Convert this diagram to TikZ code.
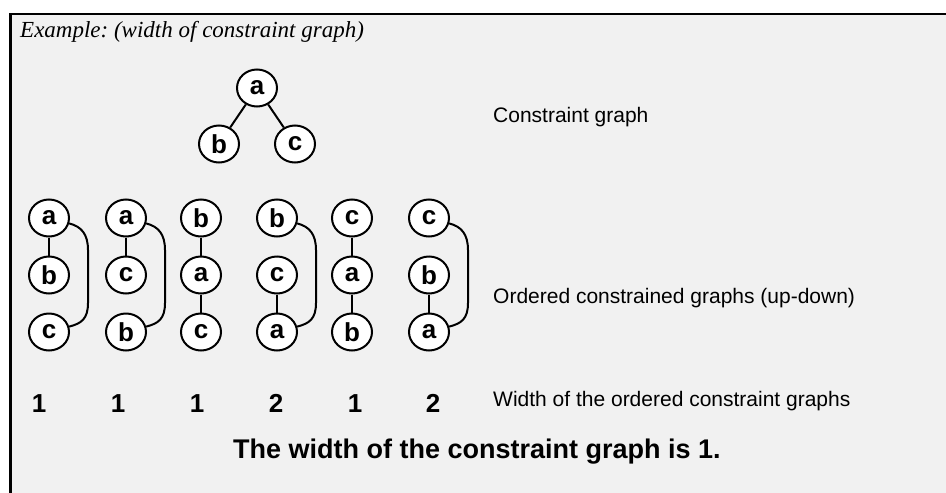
\documentclass[tikz,border=0pt]{standalone}
\usepackage{fontspec}
\setmainfont{Liberation Serif}
\newfontfamily\arialf{Liberation Sans}
\usetikzlibrary{shapes.geometric,calc}
\definecolor{bgc}{RGB}{241,241,241}
\frenchspacing
\tikzset{
  vtx/.style={ellipse, draw=black, fill=white, line width=2pt, minimum width=40pt, minimum height=37pt, inner sep=0pt,
    font=\arialf\bfseries\fontsize{26}{26}\selectfont},
  edg/.style={line width=2pt},
  lbl/.style={anchor=base west, inner sep=0pt, font=\arialf\fontsize{21}{21}\selectfont},
  num/.style={anchor=base, inner sep=0pt, font=\arialf\bfseries\fontsize{26}{26}\selectfont},
}
\newcommand{\arcedge}[3]{%
  \draw[edg] (#1.-15) .. controls +(12,3) and +(0,-16) .. ($(#1.center)+(#3,32)$)
    -- ($(#2.center)+(#3,-29)$) .. controls +(0,16) and +(12,-3) .. (#2.15);}
\begin{document}
\begin{tikzpicture}[x=1pt,y=-1pt]
\useasboundingbox (0,0) rectangle (946,493);
\fill[bgc] (10.7,14) rectangle (946,493);
\draw[line width=2.7pt] (10.7,493) -- (10.7,14) -- (946,14);
\node[anchor=base west, inner sep=0pt, font=\itshape\fontsize{23}{23}\selectfont] (title) at (20,37) {Example: (width of constraint graph)};
% tree
\node[vtx] (ta) at (257,88) {a};
\node[vtx] (tb) at (219,144) {b};
\node[vtx] (tc) at (295,144) {c};
\draw[edg] (ta) -- (tb);
\draw[edg] (ta) -- (tc);
\node[lbl] (l1) at (493,122) {Constraint graph};
% ordered graphs
\foreach \i/\x/\p/\q/\r in {1/49/a/b/c, 2/126/a/c/b, 3/201/b/a/c, 4/277/b/c/a, 5/352/c/a/b, 6/429/c/b/a}{
  \node[vtx] (g\i t) at (\x,218) {\p};
  \node[vtx] (g\i m) at (\x,275) {\q};
  \node[vtx] (g\i b) at (\x,332) {\r};
}
\draw[edg] (g1t) -- (g1m);
\arcedge{g1t}{g1b}{39}
\draw[edg] (g2t) -- (g2m);
\arcedge{g2t}{g2b}{39}
\draw[edg] (g3t) -- (g3m);
\draw[edg] (g3m) -- (g3b);
\draw[edg] (g4m) -- (g4b);
\arcedge{g4t}{g4b}{39}
\draw[edg] (g5t) -- (g5m);
\draw[edg] (g5m) -- (g5b);
\draw[edg] (g6m) -- (g6b);
\arcedge{g6t}{g6b}{39}
\node[lbl] (l2) at (493,303) {Ordered constrained graphs (up-down)};
% widths
\node[num] (w1) at (39,412) {1};
\node[num] (w2) at (118,412) {1};
\node[num] (w3) at (197,412) {1};
\node[num] (w4) at (276,412) {2};
\node[num] (w5) at (355,412) {1};
\node[num] (w6) at (433,412) {2};
\node[lbl] (l3) at (493,406) {Width of the ordered constraint graphs};
\node[anchor=base west, inner sep=0pt, font=\arialf\bfseries\fontsize{27}{27}\selectfont] (res) at (233,458) {The width of the constraint graph is 1.};
\end{tikzpicture}
\end{document}
